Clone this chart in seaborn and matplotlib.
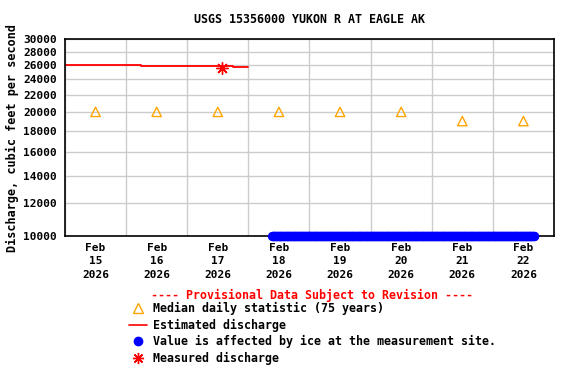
import matplotlib
import matplotlib.pyplot as plt
import matplotlib.dates as mdates
from matplotlib.lines import Line2D
from matplotlib.ticker import FixedLocator, NullLocator
import pandas as pd
import seaborn as sns

matplotlib.use('Agg')

# data
title = "USGS 15356000 YUKON R AT EAGLE AK"
median_days = ["2026-02-15 12:00", "2026-02-16 12:00", "2026-02-17 12:00", "2026-02-18 12:00",
               "2026-02-19 12:00", "2026-02-20 12:00", "2026-02-21 12:00", "2026-02-22 12:00"]
median_cfs = [20000, 20000, 20000, 20000, 20000, 20000, 19000, 19000]

est_start = ["2026-02-15 00:00", "2026-02-16 06:00", "2026-02-17 18:00"]
est_end = ["2026-02-16 06:00", "2026-02-17 18:00", "2026-02-18 00:00"]
est_cfs = [26000, 25900, 25700]

measured_time = ["2026-02-17 13:45"]
measured_cfs = [25500]

ice_start = "2026-02-18 09:15"
ice_end = "2026-02-22 16:15"
ice_cfs = 10000

y_ticks = [10000, 12000, 14000, 16000, 18000, 20000, 22000, 24000, 26000, 28000, 30000]

# build frames
est_df = pd.DataFrame({
    "time": pd.to_datetime(est_start + est_end),
    "cfs": est_cfs + est_cfs,
    "seg": list(range(len(est_cfs))) * 2,
}).sort_values(["seg", "time"])
med_df = pd.DataFrame({"time": pd.to_datetime(median_days), "cfs": median_cfs})
meas_df = pd.DataFrame({"time": pd.to_datetime(measured_time), "cfs": measured_cfs})
ice_times = pd.date_range(ice_start, ice_end, freq="15min")
ice_df = pd.DataFrame({"time": ice_times, "cfs": [ice_cfs] * len(ice_times)})

sns.set_style("white")
plt.rcParams['font.family'] = ['DejaVu Sans Mono']
plt.rcParams['font.weight'] = 'bold'
plt.rcParams['axes.titleweight'] = 'bold'
plt.rcParams['axes.labelweight'] = 'bold'
plt.rcParams['text.color'] = 'black'
plt.rcParams['xtick.color'] = 'black'
plt.rcParams['ytick.color'] = 'black'
plt.rcParams['axes.labelcolor'] = 'black'

fig = plt.figure(figsize=(5.76, 3.84), dpi=100)
ax = fig.add_axes([0.1128, 0.385, 0.849, 0.513])

sns.lineplot(data=est_df, x="time", y="cfs", units="seg", estimator=None,
             color="red", linewidth=1.3, ax=ax, legend=False)
sns.scatterplot(data=med_df, x="time", y="cfs", marker="^", s=45,
                facecolor="none", edgecolor="orange", linewidth=1.0, ax=ax, legend=False)
sns.scatterplot(data=ice_df, x="time", y="cfs", marker="o", s=45, color="blue",
                edgecolor="blue", linewidth=0, ax=ax, legend=False, clip_on=False, zorder=5)
sns.scatterplot(data=meas_df, x="time", y="cfs", marker=(8, 2, 0), s=70,
                color="red", edgecolor="red", linewidth=1.0, ax=ax, legend=False)

ax.set_yscale("log")
ax.set_ylim(10000, 30000)
ax.yaxis.set_major_locator(FixedLocator(y_ticks))
ax.yaxis.set_minor_locator(NullLocator())
ax.set_yticklabels([str(v) for v in y_ticks], fontweight="bold")

ax.set_xlim(pd.Timestamp("2026-02-15"), pd.Timestamp("2026-02-23"))
ax.xaxis.set_major_locator(mdates.HourLocator(byhour=[12]))
ax.xaxis.set_major_formatter(mdates.DateFormatter("%b\n%d\n%Y"))
ax.xaxis.set_minor_locator(mdates.DayLocator())

ax.grid(True, which="minor", axis="x", color="#cccccc", linewidth=1)
ax.grid(True, which="major", axis="y", color="#cccccc", linewidth=1)
ax.grid(False, which="major", axis="x")
ax.tick_params(axis="both", which="both", length=0, labelsize=8, pad=6)
ax.tick_params(axis="x", pad=5)
fig.canvas.draw()
for lbl in ax.get_xticklabels():
    lbl.set_linespacing(1.4)
    lbl.set_fontweight("bold")
for s in ax.spines.values():
    s.set_color("black")
    s.set_linewidth(1.2)

ax.set_xlabel("")
ax.set_ylabel("Discharge, cubic feet per second", fontsize=8.5, fontweight="bold", labelpad=3)
ax.set_title(title, fontsize=8.4, fontweight="bold", pad=12)

handles = [
    Line2D([], [], marker="^", linestyle="none", markerfacecolor="none",
           markeredgecolor="orange", markersize=7),
    Line2D([], [], color="red", linewidth=1.2),
    Line2D([], [], marker="o", linestyle="none", color="blue", markersize=6),
    Line2D([], [], marker=(8, 2, 0), linestyle="none", color="red", markersize=8),
]
labels = ["Median daily statistic (75 years)", "Estimated discharge",
          "Value is affected by ice at the measurement site.", "Measured discharge"]
leg = fig.legend(handles, labels, loc="upper center", bbox_to_anchor=(0.542, 0.262),
                 frameon=False, handlelength=1.6, handletextpad=0.45,
                 labelspacing=0.29, borderpad=0,
                 prop={"size": 8.4, "weight": "bold"},
                 title="---- Provisional Data Subject to Revision ----",
                 title_fontproperties={"size": 8.4, "weight": "bold"})
leg.get_title().set_color("red")
leg._legend_box.sep = 0

fig.savefig("out.png", dpi=100)
